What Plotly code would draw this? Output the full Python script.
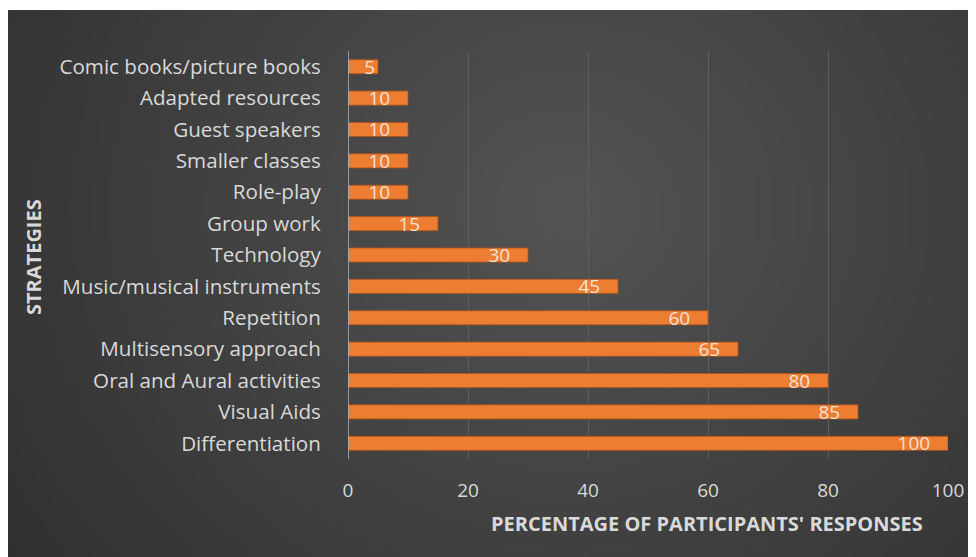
import base64
import struct
import zlib

import numpy as np
import plotly.graph_objects as go

# ---- data ----
strategies = [
    "Differentiation",
    "Visual Aids",
    "Oral and Aural activities",
    "Multisensory approach",
    "Repetition",
    "Music/musical instruments",
    "Technology",
    "Group work",
    "Role-play",
    "Smaller classes",
    "Guest speakers",
    "Adapted resources",
    "Comic books/picture books",
]
percentages = [100, 85, 80, 65, 60, 45, 30, 15, 10, 10, 10, 10, 5]
x_ticks = [0, 20, 40, 60, 80, 100]

# figure is drawn inside the page's 8px body margin
W, H = 968, 549
L, R, T, B = 340, 28, 43, 98
PW, PH = W - L - R, H - T - B


# ---- radial gradient background image (decoration) ----
def make_png(arr):
    h, w = arr.shape
    raw = b"".join(b"\x00" + bytes(np.repeat(arr[i], 3).tolist()) for i in range(h))

    def chunk(tag, data):
        c = struct.pack(">I", len(data)) + tag + data
        return c + struct.pack(">I", zlib.crc32(tag + data) & 0xFFFFFFFF)

    png = b"\x89PNG\r\n\x1a\n"
    png += chunk(b"IHDR", struct.pack(">IIBBBBB", w, h, 8, 2, 0, 0, 0))
    png += chunk(b"IDAT", zlib.compress(raw, 9))
    png += chunk(b"IEND", b"")
    return "data:image/png;base64," + base64.b64encode(png).decode()


gw, gh = 194, 110
gx = np.linspace(0, W, gw)[None, :]
gy = np.linspace(2, H, gh)[:, None]
dist = np.sqrt((gx - 560) ** 2 + ((gy - 200) * 1.1) ** 2)
vals = np.clip(84 - dist * 0.052, 48, 90).astype(np.uint8)
bg_img = make_png(vals)

NB = "\u00a0"
labels = [str(v) + (NB * 3 if v >= 10 else "") for v in percentages]

fig = go.Figure()
fig.add_trace(
    go.Bar(
        x=percentages,
        y=strategies,
        orientation="h",
        marker=dict(color="#ED7D31", line=dict(color="#A9531C", width=0.8)),
        text=labels,
        textposition="inside",
        insidetextanchor="end",
        textangle=0,
        constraintext="none",
        textfont=dict(family="Open Sans", size=19, color="#F3E2D6"),
        cliponaxis=False,
    )
)

fig.update_layout(
    width=W,
    height=H,
    paper_bgcolor="white",
    plot_bgcolor="rgba(0,0,0,0)",
    margin=dict(l=L, r=R, t=T, b=B),
    bargap=0.55,
    showlegend=False,
    font=dict(family="Open Sans", color="#D9D9D9"),
    images=[
        dict(
            source=bg_img,
            xref="paper",
            yref="paper",
            x=-L / PW,
            y=1 + (T - 2) / PH,
            sizex=W / PW,
            sizey=(H - 2) / PH,
            xanchor="left",
            yanchor="top",
            sizing="stretch",
            layer="below",
        )
    ],
    xaxis=dict(
        range=[0, 100],
        tickvals=x_ticks,
        ticktext=[str(t) for t in x_ticks],
        showgrid=True,
        gridcolor="#5E5E5E",
        gridwidth=1,
        zeroline=False,
        showline=False,
        ticks="outside",
        ticklen=14,
        tickcolor="rgba(0,0,0,0)",
        tickfont=dict(size=19, color="#D9D9D9"),
    ),
    yaxis=dict(
        categoryorder="array",
        categoryarray=strategies,
        showgrid=False,
        zeroline=False,
        showline=False,
        ticks="outside",
        ticklen=22,
        tickcolor="rgba(0,0,0,0)",
        tickfont=dict(size=20.6, color="#D9D9D9"),
    ),
    shapes=[
        dict(
            type="line",
            xref="x",
            yref="paper",
            x0=0,
            x1=0,
            y0=0,
            y1=1,
            line=dict(color="#A9B5C4", width=1.5),
        )
    ],
    annotations=[
        dict(
            text="<b>PERCENTAGE OF PARTICIPANTS' RESPONSES</b>",
            xref="paper",
            yref="paper",
            x=(699 - L) / PW,
            y=-(515 - (H - B)) / PH,
            xanchor="center",
            yanchor="middle",
            showarrow=False,
            font=dict(size=20, color="#D9D9D9", family="Open Sans"),
        ),
        dict(
            text="<b>STRATEGIES</b>",
            xref="paper",
            yref="paper",
            x=-(L - 25) / PW,
            y=((H - B) - 249) / PH,
            xanchor="center",
            yanchor="middle",
            textangle=-90,
            showarrow=False,
            font=dict(size=20, color="#D9D9D9", family="Open Sans"),
        ),
    ],
)

fig.write_html("out.html")
